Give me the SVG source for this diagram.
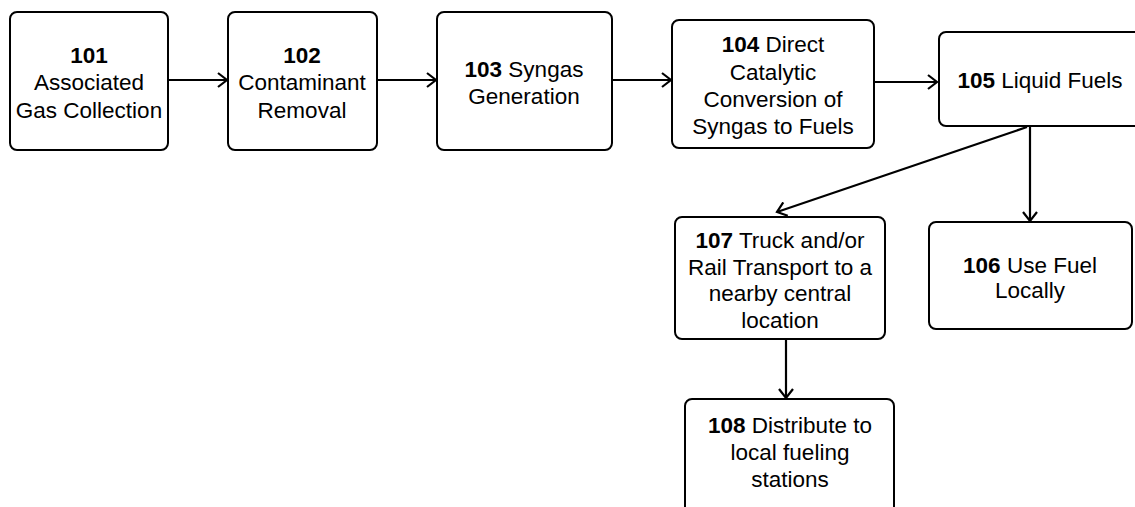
<svg xmlns="http://www.w3.org/2000/svg" width="1135" height="507" viewBox="0 0 1135 507">
<style>
.box{fill:#fff;stroke:#000;stroke-width:2}
.t{font-family:"Liberation Sans",Arial,sans-serif;font-size:22.5px;fill:#000;text-anchor:middle}
.b{font-weight:bold}
.c{stroke:#000;stroke-width:2.2;fill:none}
</style>
<defs>
<marker id="ah" markerWidth="14" markerHeight="16" refX="11" refY="8" orient="auto" markerUnits="userSpaceOnUse">
<path d="M2,1 L11,8 L2,15" fill="none" stroke="#000" stroke-width="2.2"/>
</marker>
</defs>
<rect width="1135" height="507" fill="#fff"/>
<g id="n101">
<rect class="box" x="10" y="12" width="158" height="138" rx="7"/>
<text class="t" x="89" y="63"><tspan class="b">101</tspan></text>
<text class="t" x="89" y="90">Associated</text>
<text class="t" x="89" y="118">Gas Collection</text>
</g>
<g id="n102">
<rect class="box" x="228" y="12" width="149" height="138" rx="7"/>
<text class="t" x="302" y="63"><tspan class="b">102</tspan></text>
<text class="t" x="302" y="90">Contaminant</text>
<text class="t" x="302" y="118">Removal</text>
</g>
<g id="n103">
<rect class="box" x="437" y="12" width="175" height="138" rx="7"/>
<text class="t" x="524" y="77"><tspan class="b">103</tspan> Syngas</text>
<text class="t" x="524" y="104">Generation</text>
</g>
<g id="n104">
<rect class="box" x="672" y="20" width="202" height="128" rx="7"/>
<text class="t" x="773" y="52"><tspan class="b">104</tspan> Direct</text>
<text class="t" x="773" y="80">Catalytic</text>
<text class="t" x="773" y="107">Conversion of</text>
<text class="t" x="773" y="134">Syngas to Fuels</text>
</g>
<g id="n105">
<rect class="box" x="939" y="32" width="206" height="94" rx="7"/>
<text class="t" x="1040" y="88"><tspan class="b">105</tspan> Liquid Fuels</text>
</g>
<g id="n106">
<rect class="box" x="929" y="222" width="203" height="107" rx="7"/>
<text class="t" x="1030" y="273"><tspan class="b">106</tspan> Use Fuel</text>
<text class="t" x="1030" y="298">Locally</text>
</g>
<g id="n107">
<rect class="box" x="675" y="217" width="210" height="122" rx="7"/>
<text class="t" x="780" y="248"><tspan class="b">107</tspan> Truck and/or</text>
<text class="t" x="780" y="275">Rail Transport to a</text>
<text class="t" x="780" y="301">nearby central</text>
<text class="t" x="780" y="328">location</text>
</g>
<g id="n108">
<rect class="box" x="685" y="399" width="209" height="120" rx="7"/>
<text class="t" x="790" y="433"><tspan class="b">108</tspan> Distribute to</text>
<text class="t" x="790" y="460">local fueling</text>
<text class="t" x="790" y="487">stations</text>
</g>
<g id="connectors">
<line class="c" x1="168" y1="80" x2="227" y2="80" marker-end="url(#ah)"/>
<line class="c" x1="377" y1="80" x2="436" y2="80" marker-end="url(#ah)"/>
<line class="c" x1="612" y1="80" x2="671" y2="80" marker-end="url(#ah)"/>
<line class="c" x1="874" y1="82" x2="937" y2="82" marker-end="url(#ah)"/>
<line class="c" x1="1030" y1="126" x2="1030" y2="221" marker-end="url(#ah)"/>
<line class="c" x1="1027" y1="127" x2="777" y2="212" marker-end="url(#ah)"/>
<line class="c" x1="786" y1="339" x2="786" y2="398" marker-end="url(#ah)"/>
</g>
</svg>
